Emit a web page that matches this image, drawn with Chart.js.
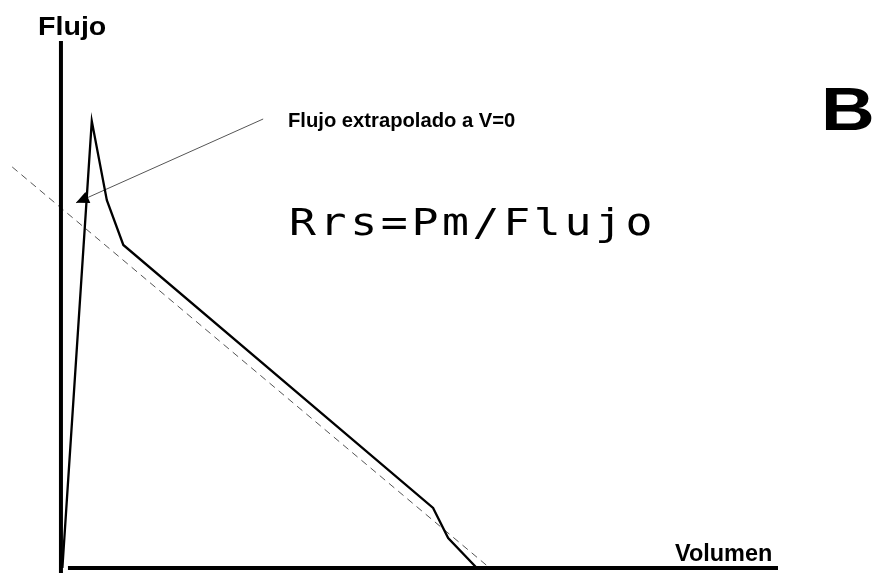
<!DOCTYPE html>
<html>
<head>
<meta charset="utf-8">
<script src="https://cdn.jsdelivr.net/npm/chart.js@4.4.0/dist/chart.umd.min.js"></script>
<style>
  html, body { margin: 0; padding: 0; background: #fff; }
  #wrap { width: 883px; height: 573px; }
</style>
</head>
<body>
<div id="wrap"><canvas id="flowChart" width="883" height="573"></canvas></div>
<script>
// measured flow-volume curve (arbitrary units, axis = 0..100)
const curveVolume = [0.2, 4.3, 6.4, 8.7, 51.9, 54.0, 58.0];
const curveFlow = [0, 84.8, 69.8, 61.3, 11.4, 5.7, 0];

// straight line fitted to the descending limb, extended back to V=0
const fitVolume = [-6.8, 59.8];
const fitFlow = [76.1, 0];

// arrow from the label to the extrapolated flow
const arrowVolume = [28.2, 2.1];
const arrowFlow = [85.2, 69.3];

function toPoints(xs, ys) {
  return xs.map((x, i) => ({ x: x, y: ys[i] }));
}

// text drawn a little wider than the stock face
function wideText(ctx, text, x, y, sx) {
  ctx.save();
  ctx.translate(x, y);
  ctx.scale(sx, 1);
  ctx.fillText(text, 0, 0);
  ctx.restore();
}

// axes, arrow head and the labels
const decorations = {
  id: 'decorations',
  afterDatasetsDraw(chart) {
    const ctx = chart.ctx;
    const xs = chart.scales.x;
    const ys = chart.scales.y;
    const x0 = xs.getPixelForValue(0);
    const y0 = ys.getPixelForValue(0);
    const area = chart.chartArea;

    ctx.save();
    ctx.fillStyle = '#000';
    ctx.strokeStyle = '#000';
    ctx.lineWidth = 4;
    ctx.beginPath();
    ctx.moveTo(x0, area.top);
    ctx.lineTo(x0, chart.height);
    ctx.stroke();
    ctx.beginPath();
    ctx.moveTo(x0 + 7, y0);
    ctx.lineTo(area.right, y0);
    ctx.stroke();

    // arrow head
    const n = arrowVolume.length;
    const tx = xs.getPixelForValue(arrowVolume[n - 1]);
    const ty = ys.getPixelForValue(arrowFlow[n - 1]);
    const sx = xs.getPixelForValue(arrowVolume[n - 2]);
    const sy = ys.getPixelForValue(arrowFlow[n - 2]);
    const ang = Math.atan2(ty - sy, tx - sx);
    const len = 13, half = 6;
    ctx.beginPath();
    ctx.moveTo(tx, ty);
    ctx.lineTo(tx - len * Math.cos(ang) + half * Math.sin(ang), ty - len * Math.sin(ang) - half * Math.cos(ang));
    ctx.lineTo(tx - len * Math.cos(ang) - half * Math.sin(ang), ty - len * Math.sin(ang) + half * Math.cos(ang));
    ctx.closePath();
    ctx.fill();

    ctx.textBaseline = 'alphabetic';
    ctx.textAlign = 'left';
    ctx.font = 'bold 26px "Liberation Sans", Arial, sans-serif';
    wideText(ctx, 'Flujo', 38, 35, 1.1);
    ctx.font = 'bold 23px "Liberation Sans", Arial, sans-serif';
    wideText(ctx, 'Volumen', 675, 561, 1.02);

    ctx.font = 'bold 20px "Liberation Sans", Arial, sans-serif';
    wideText(ctx, 'Flujo extrapolado a V=0', 288, 127, 1.01);

    ctx.font = 'bold 62px "Liberation Sans", Arial, sans-serif';
    wideText(ctx, 'B', 821, 130, 1.2);

    // formula in a typewriter face, fixed advance per character
    const formula = 'Rrs=Pm/Flujo';
    ctx.font = '38px "DejaVu Sans Mono", monospace';
    ctx.strokeStyle = '#000';
    ctx.lineWidth = 0.8;
    for (let i = 0; i < formula.length; i++) {
      wideText(ctx, formula[i], 289 + i * 30.6, 235, 1.18);
    }
    ctx.restore();
  }
};

new Chart(document.getElementById('flowChart').getContext('2d'), {
  type: 'scatter',
  data: {
    datasets: [
      {
        label: 'Flujo',
        data: toPoints(curveVolume, curveFlow),
        showLine: true,
        borderColor: '#000',
        borderWidth: 2.3,
        pointRadius: 0,
        tension: 0
      },
      {
        label: 'Extrapolación',
        data: toPoints(fitVolume, fitFlow),
        showLine: true,
        borderColor: '#555',
        borderWidth: 1,
        borderDash: [7, 5],
        pointRadius: 0
      },
      {
        label: 'Flecha',
        data: toPoints(arrowVolume, arrowFlow),
        showLine: true,
        borderColor: '#555',
        borderWidth: 1,
        pointRadius: 0
      }
    ]
  },
  options: {
    responsive: false,
    animation: false,
    layout: { padding: { top: 41, bottom: 5, left: 0, right: 105 } },
    plugins: {
      legend: { display: false },
      tooltip: { enabled: false }
    },
    scales: {
      x: { type: 'linear', min: -8.5, max: 100, display: false },
      y: { type: 'linear', min: 0, max: 100, display: false }
    }
  },
  plugins: [decorations]
});
</script>
</body>
</html>
